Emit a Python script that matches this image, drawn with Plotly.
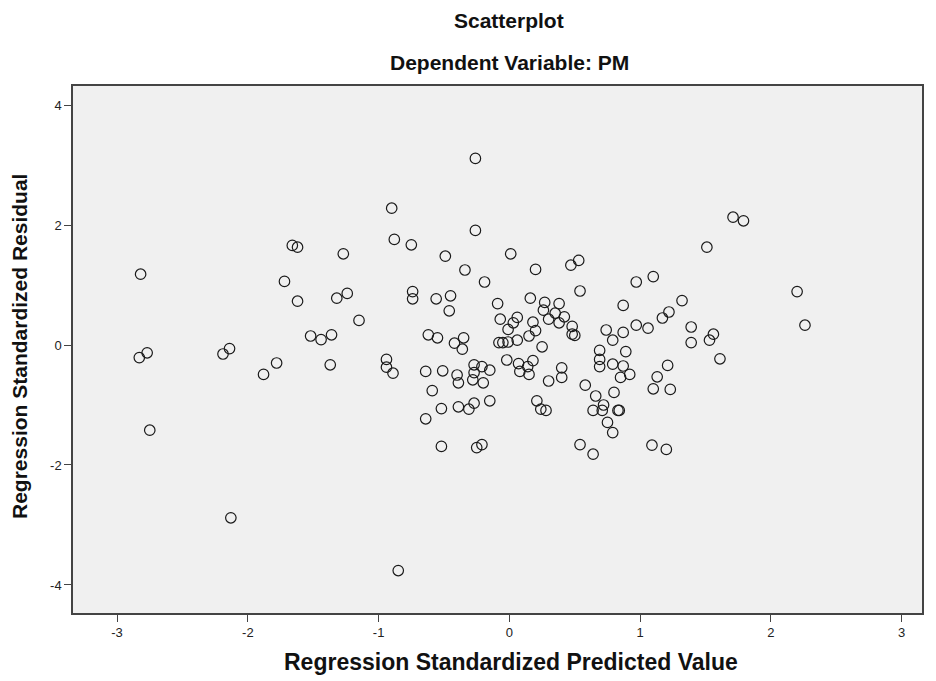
import plotly.graph_objects as go

predicted = [
    -2.82, -2.83, -2.77, -2.75, -2.19, -2.14, -2.13, -1.88, -1.78, -1.72,
    -1.66, -1.62, -1.62, -1.52, -1.44, -1.36, -1.37, -1.32, -1.27, -1.24,
    -1.15, -0.90, -0.88, -0.75, -0.74, -0.74, -0.94, -0.94, -0.89, -0.85,
    -0.64, -0.62, -0.55, -0.56, -0.59, -0.64, -0.52, -0.52, -0.51, -0.49,
    -0.45, -0.46, -0.42, -0.35, -0.36, -0.40, -0.39, -0.39, -0.34, -0.31,
    -0.26, -0.26, -0.27, -0.27, -0.28, -0.27, -0.25, -0.21, -0.21, -0.20,
    -0.19, -0.15, -0.15, -0.09, -0.07, -0.08, -0.05, -0.01, -0.01, -0.02,
    0.01, 0.06, 0.03, 0.06, 0.07, 0.08, 0.15, 0.14, 0.15, 0.16,
    0.18, 0.18, 0.20, 0.20, 0.21, 0.24, 0.28, 0.25, 0.27, 0.26,
    0.30, 0.30, 0.35, 0.38, 0.38, 0.40, 0.40, 0.42, 0.47, 0.53,
    0.48, 0.48, 0.50, 0.54, 0.54, 0.58, 0.64, 0.66, 0.64, 0.69,
    0.69, 0.69, 0.71, 0.72, 0.74, 0.75, 0.79, 0.79, 0.79, 0.80,
    0.83, 0.84, 0.85, 0.87, 0.87, 0.87, 0.89, 0.92, 0.97, 0.97,
    1.06, 1.10, 1.09, 1.10, 1.13, 1.17, 1.21, 1.20, 1.22, 1.23,
    1.32, 1.39, 1.39, 1.51, 1.53, 1.56, 1.61, 1.71, 1.79, 2.20,
    2.26,
]
residual = [
    1.18, -0.21, -0.13, -1.42, -0.15, -0.06, -2.88, -0.49, -0.30, 1.06,
    1.66, 1.63, 0.73, 0.15, 0.09, 0.17, -0.33, 0.78, 1.52, 0.86,
    0.41, 2.28, 1.76, 1.67, 0.89, 0.77, -0.24, -0.37, -0.47, -3.76,
    -0.44, 0.17, 0.12, 0.77, -0.76, -1.23, -1.06, -1.69, -0.43, 1.48,
    0.82, 0.57, 0.03, 0.12, -0.07, -0.50, -0.63, -1.03, 1.25, -1.07,
    3.11, 1.91, -0.33, -0.46, -0.58, -0.97, -1.71, -1.66, -0.36, -0.63,
    1.05, -0.42, -0.93, 0.69, 0.43, 0.04, 0.04, 0.05, 0.26, -0.25,
    1.52, 0.46, 0.37, 0.08, -0.31, -0.44, 0.15, -0.36, -0.49, 0.78,
    0.38, -0.26, 0.24, 1.26, -0.93, -1.07, -1.09, -0.03, 0.71, 0.58,
    0.43, -0.60, 0.53, 0.69, 0.37, -0.38, -0.54, 0.47, 1.33, 1.41,
    0.31, 0.18, 0.16, 0.90, -1.66, -0.67, -1.82, -0.85, -1.09, -0.09,
    -0.24, -0.36, -1.09, -1.00, 0.25, -1.29, -1.46, 0.08, -0.32, -0.79,
    -1.09, -1.09, -0.54, -0.35, 0.66, 0.21, -0.11, -0.49, 1.05, 0.33,
    0.28, 1.14, -1.67, -0.73, -0.53, 0.45, -0.34, -1.74, 0.55, -0.74,
    0.74, 0.30, 0.04, 1.63, 0.08, 0.18, -0.23, 2.13, 2.07, 0.89,
    0.33,
]

x_ticks = [-3, -2, -1, 0, 1, 2, 3]
y_ticks = [-4, -2, 0, 2, 4]

title_text = "Scatterplot"
subtitle_text = "Dependent Variable: PM"
x_title = "Regression Standardized Predicted Value"
y_title = "Regression Standardized Residual"

FONT = "Liberation Sans, Arial, sans-serif"
OFF = 8  # page body margin offset
W, H = 936 - OFF, 681 - OFF
ML, MR, MT, MB = 73 - OFF, 14, 86 - OFF, 68
PW, PH = W - ML - MR, H - MT - MB

fig = go.Figure()
fig.add_trace(go.Scatter(
    x=predicted, y=residual, mode="markers",
    marker=dict(symbol="circle-open", size=10.5, color="#1a1a1a",
                line=dict(width=1.2, color="#1a1a1a")),
    hoverinfo="x+y", showlegend=False,
))

axis_common = dict(
    showgrid=False, zeroline=False, showline=True, linecolor="#444444", linewidth=1.5,
    mirror=True, ticks="outside", ticklen=7, tickwidth=1.3, tickcolor="#444444",
    tickfont=dict(family=FONT, size=13, color="#222222"), automargin=False,
)

fig.update_layout(
    width=W, height=H,
    margin=dict(l=ML, r=MR, t=MT, b=MB),
    paper_bgcolor="white",
    plot_bgcolor="#F0F0F0",
    font=dict(family=FONT, color="#000000"),
    xaxis=dict(range=[-3.337, 3.155], tickvals=x_ticks,
               ticktext=[str(v) for v in x_ticks], **axis_common),
    yaxis=dict(range=[-4.467, 4.317], tickvals=y_ticks,
               ticktext=[str(v) for v in y_ticks], **axis_common),
)

# helpers: convert target page pixel positions to paper coordinates
def px_x(p):
    return (p - OFF - ML) / PW

def px_y(p):
    return (H - MB - (p - OFF)) / PH

title_font = dict(family=FONT, size=21, color="#111111")
fig.add_annotation(text="<b>%s</b>" % title_text, x=px_x(509), y=px_y(20), xref="paper", yref="paper",
                   showarrow=False, yanchor="middle", font=title_font)
fig.add_annotation(text="<b>%s</b>" % subtitle_text, x=px_x(509), y=px_y(63), xref="paper", yref="paper",
                   showarrow=False, yanchor="middle", font=title_font)
fig.add_annotation(text="<b>%s</b>" % x_title, x=px_x(511), y=px_y(662), xref="paper", yref="paper",
                   showarrow=False, yanchor="middle", xanchor="center",
                   font=dict(family=FONT, size=23, color="#111111"))
fig.add_annotation(text="<b>%s</b>" % y_title, x=px_x(19), y=px_y(347), xref="paper", yref="paper",
                   showarrow=False, yanchor="middle", xanchor="center", textangle=-90,
                   font=title_font)

fig.write_html("out.html")
